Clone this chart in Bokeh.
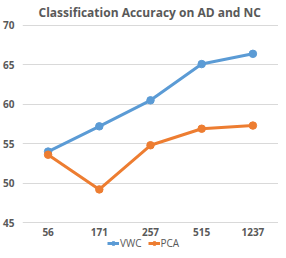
from bokeh.plotting import figure
from bokeh.models import Range1d, Legend, LegendItem, FixedTicker
from bokeh.core.properties import value
from bokeh.embed import file_html
from bokeh.resources import INLINE

categories = ["56", "171", "257", "515", "1237"]
vwc = [54.0, 57.2, 60.5, 65.1, 66.4]
pca = [53.6, 49.2, 54.8, 56.9, 57.3]
y_ticks = [45, 50, 55, 60, 65, 70]

FONT = "Open Sans"
GREY = "#595959"

p = figure(x_range=categories, y_range=Range1d(41.45, 70.5), width=278, height=250,
           output_backend="svg", toolbar_location=None,
           min_border_left=16, min_border_right=0, min_border_top=0, min_border_bottom=0)
p.outline_line_color = None
p.title.text = "Classification Accuracy on AD and NC"
p.title.align = "left"
p.title.offset = 16
p.title.text_font = FONT
p.title.text_font_size = "12px"
p.title.text_font_style = "bold"
p.title.text_color = GREY
p.title.standoff = 2

p.xaxis.visible = False
p.yaxis.ticker = FixedTicker(ticks=y_ticks)
ax = p.yaxis[0]
ax.axis_line_color = None
ax.major_tick_line_color = None
ax.minor_tick_line_color = None
ax.major_label_text_font = FONT
ax.major_label_text_font_size = "10px"
ax.major_label_text_font_style = "bold"
ax.major_label_text_color = GREY
ax.major_label_standoff = 2
p.xgrid.grid_line_color = None
p.ygrid.grid_line_color = "#d9d9d9"
p.ygrid.ticker = FixedTicker(ticks=y_ticks)

# category labels just below the lowest gridline
p.text(x=categories, y=[y_ticks[0] - 1.15] * len(categories), text=categories,
       text_font=value(FONT), text_font_size="10px", text_font_style="bold",
       text_color=GREY, text_align="center", text_baseline="middle")

l1 = p.line(categories, vwc, line_color="#5B9BD5", line_width=3)
c1 = p.scatter(categories, vwc, size=7.5, fill_color="#5B9BD5", line_color="#5B9BD5")
l2 = p.line(categories, pca, line_color="#ED7D31", line_width=3)
c2 = p.scatter(categories, pca, size=7.5, fill_color="#ED7D31", line_color="#ED7D31")

legend = Legend(items=[LegendItem(label="VWC", renderers=[l1, c1]),
                       LegendItem(label="PCA", renderers=[l2, c2])],
                orientation="horizontal", location=(85, 0),
                label_text_font=FONT, label_text_font_size="10px", label_text_color=GREY,
                border_line_color=None, background_fill_alpha=0,
                glyph_width=12, glyph_height=10, label_standoff=1, spacing=6,
                padding=0, margin=0, label_height=10)
p.add_layout(legend, "center")

open("out.html", "w").write(file_html(p, INLINE))
